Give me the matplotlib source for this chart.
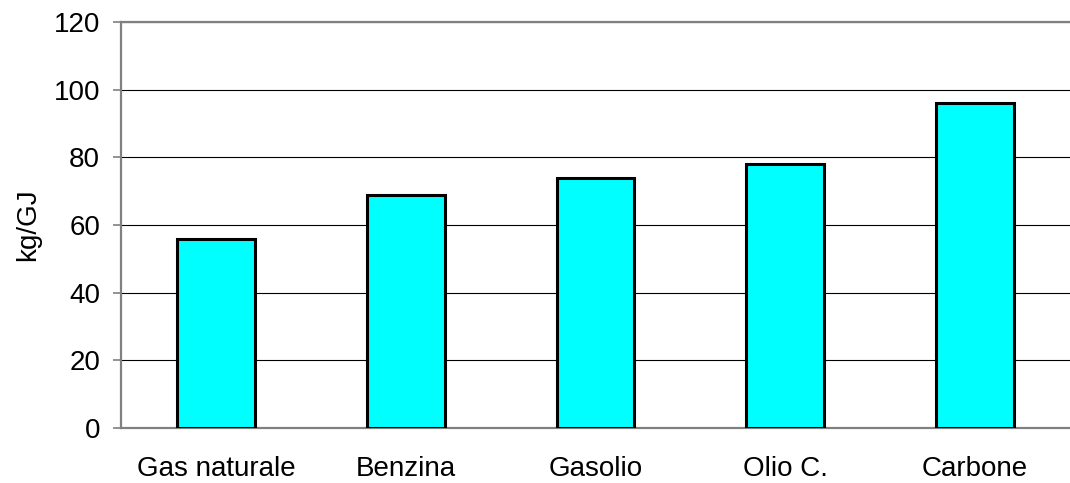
import matplotlib
matplotlib.use("Agg")
import matplotlib.pyplot as plt

plt.rcParams['font.family'] = ['Liberation Sans', 'DejaVu Sans']

# emissioni di CO2 per combustibile
fuels = ["Gas naturale", "Benzina", "Gasolio", "Olio C.", "Carbone"]
co2 = [56, 69, 74, 78, 96]
yticks = [0, 20, 40, 60, 80, 100, 120]

fig = plt.figure(figsize=(10.7, 4.83), dpi=100)
ax = fig.add_axes([0.1131, 0.1139, 0.8869, 0.8406])

x = range(len(fuels))
ax.bar(x, co2, width=0.41, color="#00ffff", edgecolor="black", linewidth=2.2, zorder=3)

ax.set_xlim(-0.5, len(fuels) - 0.5)
ax.set_ylim(0, 120)
ax.set_yticks(yticks)
ax.set_xticks(list(x))
ax.set_xticklabels(fuels)

# griglia orizzontale
ax.yaxis.grid(True, color="black", linewidth=0.8, zorder=0)
ax.set_axisbelow(True)

for s in ["left", "bottom", "top"]:
    ax.spines[s].set_color("#808080")
    ax.spines[s].set_linewidth(1.6)
ax.spines["right"].set_visible(False)
ax.spines["top"].set_zorder(4)

ax.tick_params(axis="y", direction="out", length=6, width=1.2, color="#808080", labelsize=20, pad=9)
ax.tick_params(axis="x", length=0, labelsize=20, pad=20)
ax.set_ylabel("kg/GJ", fontsize=20, labelpad=9)

fig.savefig("out.png", dpi=100)
